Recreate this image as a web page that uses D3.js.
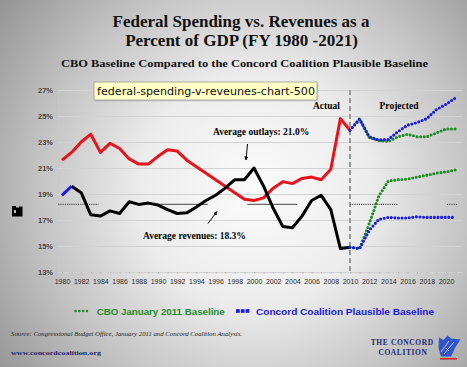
<!DOCTYPE html>
<html><head><meta charset="utf-8">
<script src="https://cdn.jsdelivr.net/npm/d3@7/dist/d3.min.js"></script>
<style>html,body{margin:0;padding:0;overflow:hidden;background:#bbb}</style>
</head><body>
<script>
// ---- data ----
const actualYears = d3.range(1980, 2011);
const outlays = [21.6,22.2,23.0,23.6,22.2,22.9,22.5,21.7,21.3,21.3,21.9,22.4,22.3,21.6,21.1,20.6,20.1,19.6,19.1,18.6,18.5,18.7,19.45,19.95,19.8,20.2,20.3,20.1,20.9,24.8,23.9];
const revenues = [18.9,19.6,19.1,17.4,17.3,17.7,17.5,18.4,18.2,18.3,18.15,17.8,17.5,17.55,18.0,18.5,18.9,19.45,20.1,20.1,21.0,19.6,17.9,16.5,16.4,17.3,18.5,18.9,17.8,14.8,14.9];
const projYears = d3.range(2010, 2022);
const cboOutlays = [23.9,24.8,23.35,23.1,23.05,23.4,23.6,23.4,23.4,23.7,24.0,24.0];
const concordOutlays = [23.9,24.75,23.4,23.15,23.2,23.8,24.3,24.5,24.8,25.5,25.9,26.4];
const cboRevenues = [14.9,14.8,16.7,18.85,20.0,20.1,20.15,20.3,20.45,20.6,20.7,20.85];
const concordRevenues = [14.9,14.8,16.2,17.05,17.2,17.15,17.15,17.25,17.2,17.2,17.2,17.2];
const avgOutlays = 21.0;
const avgRevenues = 18.3;
const avgRevenueLine = 18.2;
const avgDottedSpans = [[1979.6,1983.8],[2010,2015],[2020.1,2021.2]];
const avgSolidSpans = [[1989.5,1995.2],[1999.3,2004.5]];
const yTicks = [13,15,17,19,21,23,25,27];
const xTicks = d3.range(1980, 2021, 2);
const splitYear = 2010;

// ---- layout ----
const W = 467, H = 367;
const svg = d3.select("body").append("svg").attr("width", W).attr("height", H);
const defs = svg.append("defs");
const rg = defs.append("radialGradient").attr("id","bg").attr("gradientUnits","userSpaceOnUse")
  .attr("cx",255).attr("cy",190).attr("r",330);
rg.append("stop").attr("offset","0%").attr("stop-color","#fbfbfb");
rg.append("stop").attr("offset","35%").attr("stop-color","#ececec");
rg.append("stop").attr("offset","65%").attr("stop-color","#c4c4c4");
rg.append("stop").attr("offset","100%").attr("stop-color","#8e8e8e");
svg.append("rect").attr("width",W).attr("height",H).attr("fill","url(#bg)");

const x = d3.scaleLinear().domain([1980, 2021]).range([62, 455.6]);
const y = d3.scaleLinear().domain([13, 27]).range([272, 90]);
const plotL = 58, plotR = 462;

// gridlines
svg.append("g").attr("transform",`translate(${plotL},0)`)
  .call(d3.axisLeft(y).tickValues(yTicks).tickSize(-(plotR-plotL)).tickFormat(""))
  .call(g=>{g.select(".domain").attr("stroke","#c8c8c8");g.selectAll(".tick line").attr("stroke","#d2d2d2");});
// y labels
svg.append("g").attr("transform",`translate(${plotL},0)`)
  .call(d3.axisLeft(y).tickValues(yTicks).tickSize(0).tickPadding(5).tickFormat(d=>d+"%"))
  .call(g=>{g.select(".domain").remove();g.selectAll("text").attr("font-family","Liberation Sans, Arial, sans-serif").attr("font-size",7.5).attr("font-weight","bold").attr("fill","#444");});
// x axis
svg.append("g").attr("transform","translate(0,272)")
  .call(d3.axisBottom(x).tickValues(d3.range(1980,2022)).tickSize(1.5).tickFormat(""))
  .call(g=>{g.select(".domain").remove();g.selectAll("line").attr("stroke","#aaa");});
svg.append("g").attr("transform","translate(0,272)")
  .call(d3.axisBottom(x).tickValues(xTicks).tickSize(0).tickPadding(7).tickFormat(d3.format("d")))
  .call(g=>{g.select(".domain").remove();g.selectAll("text").attr("font-family","Liberation Sans, Arial, sans-serif").attr("font-size",7).attr("fill","#2a2a2a");});

// divider
svg.append("line").attr("x1",x(splitYear)).attr("x2",x(splitYear)).attr("y1",y(27)).attr("y2",y(13))
  .attr("stroke","#999").attr("stroke-width",2).attr("stroke-dasharray","5,3");

// average revenue line segments
avgDottedSpans.forEach(s=>svg.append("line").attr("x1",x(s[0])).attr("x2",x(s[1])).attr("y1",y(avgRevenueLine)).attr("y2",y(avgRevenueLine))
  .attr("stroke","#555").attr("stroke-width",1.3).attr("stroke-dasharray","1.2,1"));
avgSolidSpans.forEach(s=>svg.append("line").attr("x1",x(s[0])).attr("x2",x(s[1])).attr("y1",y(avgRevenueLine)).attr("y2",y(avgRevenueLine))
  .attr("stroke","#6a6a6a").attr("stroke-width",1.4));

const line = d3.line().x(d=>x(d[0])).y(d=>y(d[1]));
const act = (arr)=>actualYears.map((yr,i)=>[yr,arr[i]]);
const proj = (arr)=>projYears.map((yr,i)=>[yr,arr[i]]);

// actual lines
svg.append("path").datum(act(outlays)).attr("d",line).attr("fill","none").attr("stroke","#e8141c").attr("stroke-width",3).attr("stroke-linejoin","round");
const rev = act(revenues);
svg.append("path").datum(rev.slice(1)).attr("d",line).attr("fill","none").attr("stroke","#000").attr("stroke-width",3).attr("stroke-linejoin","round");
svg.append("path").datum(rev.slice(0,2)).attr("d",line).attr("fill","none").attr("stroke","#1e1ee0").attr("stroke-width",3);

// projections
const green = "#1f8c24", blue = "#1a1ad8";
[[cboOutlays,green],[cboRevenues,green],[concordOutlays,blue],[concordRevenues,blue]].forEach(([arr,c])=>{
  svg.append("path").datum(proj(arr)).attr("d",line).attr("fill","none").attr("stroke",c)
    .attr("stroke-width",3.1).attr("stroke-linecap","round").attr("stroke-dasharray","0,3.6");
});

// annotations
const serif = "Liberation Serif, Times New Roman, serif";
svg.append("text").attr("x",x(2010)-37).attr("y",109).attr("font-family",serif).attr("font-weight","bold").attr("font-size",9.5).text("Actual");
svg.append("text").attr("x",399).attr("y",109).attr("text-anchor","middle").attr("font-family",serif).attr("font-weight","bold").attr("font-size",9.5).text("Projected");
svg.append("text").attr("x",213).attr("y",134.5).attr("font-family",serif).attr("font-weight","bold").attr("font-size",9.5).text(`Average outlays:  ${avgOutlays.toFixed(1)}%`);
svg.append("text").attr("x",143).attr("y",238.5).attr("font-family",serif).attr("font-weight","bold").attr("font-size",9.5).text(`Average revenues:  ${avgRevenues.toFixed(1)}%`);
defs.append("marker").attr("id","ah").attr("viewBox","0 0 10 10").attr("refX",9).attr("refY",5)
  .attr("markerWidth",4).attr("markerHeight",4).attr("orient","auto")
  .append("path").attr("d","M0,0L10,5L0,10z").attr("fill","#000");
svg.append("line").attr("x1",247.5).attr("y1",144).attr("x2",246).attr("y2",160).attr("stroke","#000").attr("stroke-width",1).attr("marker-end","url(#ah)");
svg.append("line").attr("x1",208).attr("y1",223.5).attr("x2",217).attr("y2",211.5).attr("stroke","#000").attr("stroke-width",1).attr("marker-end","url(#ah)");

// titles
svg.append("text").attr("x",241).attr("y",27).attr("text-anchor","middle").attr("font-family",serif).attr("font-weight","bold").attr("font-size",17).attr("fill","#111").text("Federal Spending vs. Revenues as a");
svg.append("text").attr("x",241.5).attr("y",45.5).attr("text-anchor","middle").attr("font-family",serif).attr("font-weight","bold").attr("font-size",17).attr("fill","#111").text("Percent of GDP (FY 1980 -2021)");
svg.append("text").attr("x",61).attr("y",67.3).attr("font-family",serif).attr("font-weight","bold").attr("font-size",10.5).attr("fill","#111")
  .attr("textLength",367).attr("lengthAdjust","spacingAndGlyphs").text("CBO Baseline Compared to the Concord Coalition Plausible Baseline");

// y-axis glyph
svg.append("path").attr("d","M12,206h4v1.5h3v-1h3.5v10h-10.5z M14,210v3h2v-3z").attr("fill","#000").attr("fill-rule","evenodd");

// legend
const sans = "Liberation Sans, Arial, sans-serif";
d3.range(4).forEach(i=>svg.append("circle").attr("cx",75.5+i*3.8).attr("cy",311).attr("r",1.3).attr("fill",green));
svg.append("text").attr("x",96.7).attr("y",314.5).attr("font-family",sans).attr("font-weight","bold").attr("font-size",9).attr("fill",green)
  .attr("textLength",128).attr("lengthAdjust","spacingAndGlyphs").text("CBO January 2011 Baseline");
d3.range(3).forEach(i=>svg.append("rect").attr("x",236+i*4.8).attr("y",309.2).attr("width",3.8).attr("height",3.6).attr("fill",blue));
svg.append("text").attr("x",256).attr("y",314.5).attr("font-family",sans).attr("font-weight","bold").attr("font-size",9).attr("fill",blue)
  .attr("textLength",178).attr("lengthAdjust","spacingAndGlyphs").text("Concord Coalition Plausible Baseline");

// source & footer
svg.append("text").attr("x",11).attr("y",335.5).attr("font-family",serif).attr("font-style","italic").attr("font-size",6.5).attr("fill","#222")
  .attr("textLength",231).attr("lengthAdjust","spacingAndGlyphs").text("Source: Congressional Budget Office,   January 2011 and Concord Coalition Analysis.");
svg.append("text").attr("x",11).attr("y",354.5).attr("font-family",serif).attr("font-weight","bold").attr("font-size",7).attr("fill","#23246e")
  .attr("textLength",90).attr("lengthAdjust","spacingAndGlyphs").text("www.concordcoalition.org");
svg.append("text").attr("x",402.3).attr("y",344.5).attr("text-anchor","middle").attr("font-family",serif).attr("font-weight","bold").attr("font-size",7.5).attr("fill","#23267a").attr("letter-spacing",0.6).text("THE CONCORD");
svg.append("text").attr("x",403).attr("y",354.5).attr("text-anchor","middle").attr("font-family",serif).attr("font-weight","bold").attr("font-size",7.5).attr("fill","#23267a").attr("letter-spacing",0.6).text("COALITION");
// logo mark
svg.append("path").attr("d","M439,337.5L443.5,340L447.5,335.5L451,338.5L460.5,339.5L455.5,347L451,356.5L441,356.5L438.5,348z").attr("fill","#2f55c8");
svg.append("path").attr("d","M441,352L449,341M444,354L454,342M446,348l3,3").attr("stroke","#fff").attr("stroke-width",0.7).attr("fill","none");
svg.append("rect").attr("x",440).attr("y",358).attr("width",17).attr("height",1.6).attr("fill","#d8262c");

// tooltip
const tt = svg.append("g");
tt.append("rect").attr("x",95.5).attr("y",83.5).attr("width",223).attr("height",18).attr("fill","#000").attr("opacity",0.12);
tt.append("rect").attr("x",94).attr("y",82).attr("width",223).attr("height",18).attr("fill","#ffffc6").attr("stroke","#9a9a9a").attr("stroke-width",0.8);
tt.append("text").attr("x",97).attr("y",95).attr("font-family","DejaVu Sans, sans-serif").attr("font-size",10.5).attr("fill","#111")
  .attr("textLength",218).attr("lengthAdjust","spacingAndGlyphs").text("federal-spending-v-reveunes-chart-500");
</script>
</body></html>
